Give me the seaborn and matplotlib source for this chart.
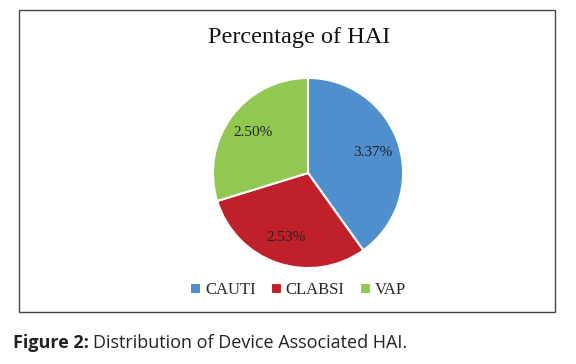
import matplotlib
matplotlib.use("Agg")
import matplotlib.pyplot as plt
import seaborn as sns
from matplotlib.patches import Rectangle

# Device associated HAI rates (%)
categories = ["CAUTI", "CLABSI", "VAP"]
values = [3.37, 2.53, 2.50]
colors = ["#4f8fcd", "#c0202a", "#92c852"]

sns.set_theme(style="white")
plt.rcParams["font.family"] = ["Liberation Serif", "DejaVu Serif"]

W, H = 576, 364
fig = plt.figure(figsize=(W / 100, H / 100), dpi=100)

# frame round the chart
fig.patches.append(Rectangle((19 / W, 1 - 312 / H), 536 / W, 302 / H,
                             transform=fig.transFigure, fill=False,
                             edgecolor="#444444", linewidth=1.0))

cx, cy, r = 308, 173, 96
ax = fig.add_axes([(cx - r) / W, 1 - (cy + r) / H, 2 * r / W, 2 * r / H])

total = sum(values)
wedges, texts, autotexts = ax.pie(
    values, colors=colors, startangle=90, counterclock=False,
    autopct=lambda p: f"{p * total / 100:.2f}%", pctdistance=0.72,
    wedgeprops=dict(edgecolor="white", linewidth=1.5),
    textprops=dict(fontsize=11, color="#222222"))
ax.set_xlim(-1.01, 1.01)
ax.set_ylim(-1.01, 1.01)
ax.set_aspect("equal")

fig.text(299 / W, 1 - 37 / H, "Percentage of HAI", ha="center", va="center",
         fontsize=17.5, color="#111111")

fig.legend(wedges, categories, loc="center", bbox_to_anchor=(298 / W, 1 - 290 / H),
           ncol=3, frameon=False, fontsize=12, handlelength=0.65, handleheight=0.65,
           handletextpad=0.25, columnspacing=0.9)

# caption: bold label followed by plain text
cap_font = ["Open Sans", "DejaVu Sans"]
lab = fig.text(13 / W, 1 - 343 / H, "Figure 2:", ha="left", va="center",
               fontsize=13, fontweight="bold", family=cap_font, color="#222222")
renderer = fig.canvas.get_renderer()
bb = lab.get_window_extent(renderer)
fig.text((bb.x1 + 4) / W, 1 - 343 / H, "Distribution of Device Associated HAI.",
         ha="left", va="center", fontsize=13, family=cap_font, color="#222222")

fig.savefig("out.png", dpi=100)
